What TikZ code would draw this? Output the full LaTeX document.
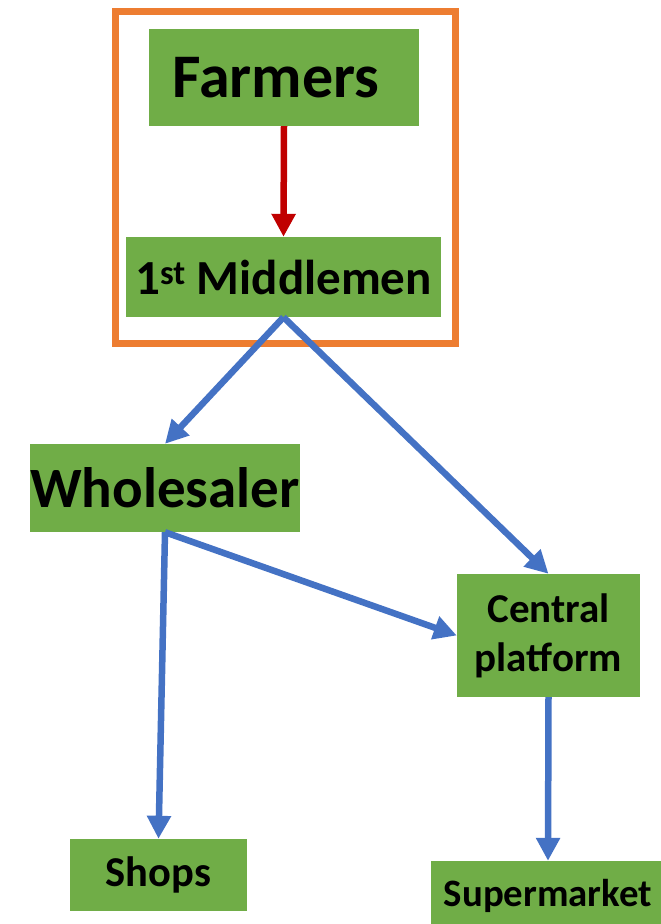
\documentclass[tikz,border=0pt]{standalone}
\usepackage{fontspec}
\setmainfont{Carlito}
\usetikzlibrary{arrows.meta}
\definecolor{boxgreen}{HTML}{70AD47}
\definecolor{arrowblue}{HTML}{4472C4}
\definecolor{frameorange}{HTML}{ED7D31}
\definecolor{arrowred}{HTML}{C00000}
\tikzset{
  gbox/.style={fill=boxgreen, draw=none, inner sep=0pt, align=center},
  flowarrow/.style={draw=arrowblue, line width=6.5pt, -{Triangle[length=23pt,width=23pt]}},
  redarrow/.style={draw=arrowred, line width=6.5pt, -{Triangle[length=23pt,width=23pt]}},
  groupframe/.style={draw=frameorange, line width=7pt, inner sep=0pt}
}
\begin{document}
\begin{tikzpicture}[x=1pt,y=-1pt]
\useasboundingbox (0,0) rectangle (661,924);
\node[groupframe, minimum width=340pt, minimum height=332pt] (group) at (285.5,177) {};
\node[gbox, minimum width=270pt, minimum height=97pt, font={\bfseries\fontsize{62}{74}\selectfont}] (farmers) at (284,77.5)
  {Farmers\hspace{16pt}};
\node[gbox, minimum width=315pt, minimum height=80pt, font={\bfseries\fontsize{49}{58}\selectfont}] (mid) at (283.5,277)
  {1\textsuperscript{st} Middlemen};
\node[gbox, minimum width=270pt, minimum height=88pt, font={\bfseries\fontsize{57}{68}\selectfont}] (whole) at (165,488)
  {Wholesaler};
\node[gbox, minimum width=183pt, minimum height=123pt, font={\bfseries\fontsize{41}{49}\selectfont}] (central) at (548.5,635.5)
  {Central\\ platform};
\node[gbox, minimum width=177pt, minimum height=72pt, font={\bfseries\fontsize{42.5}{51}\selectfont}] (shops) at (158.5,875)
  {Shops};
\node[gbox, minimum width=234pt, minimum height=70pt, font={\bfseries\fontsize{38.8}{46}\selectfont}] (super) at (548,896)
  {Supermarket};
\draw[redarrow] (farmers.south) -- (mid.north);
\draw[flowarrow] (mid.south) -- (whole.north);
\draw[flowarrow] (mid.south) -- (central.north);
\draw[flowarrow] (whole.south) -- (shops.north);
\draw[flowarrow] (whole.south) -- (central.west);
\draw[flowarrow] (central.south) -- (super.north);
\end{tikzpicture}
\end{document}
